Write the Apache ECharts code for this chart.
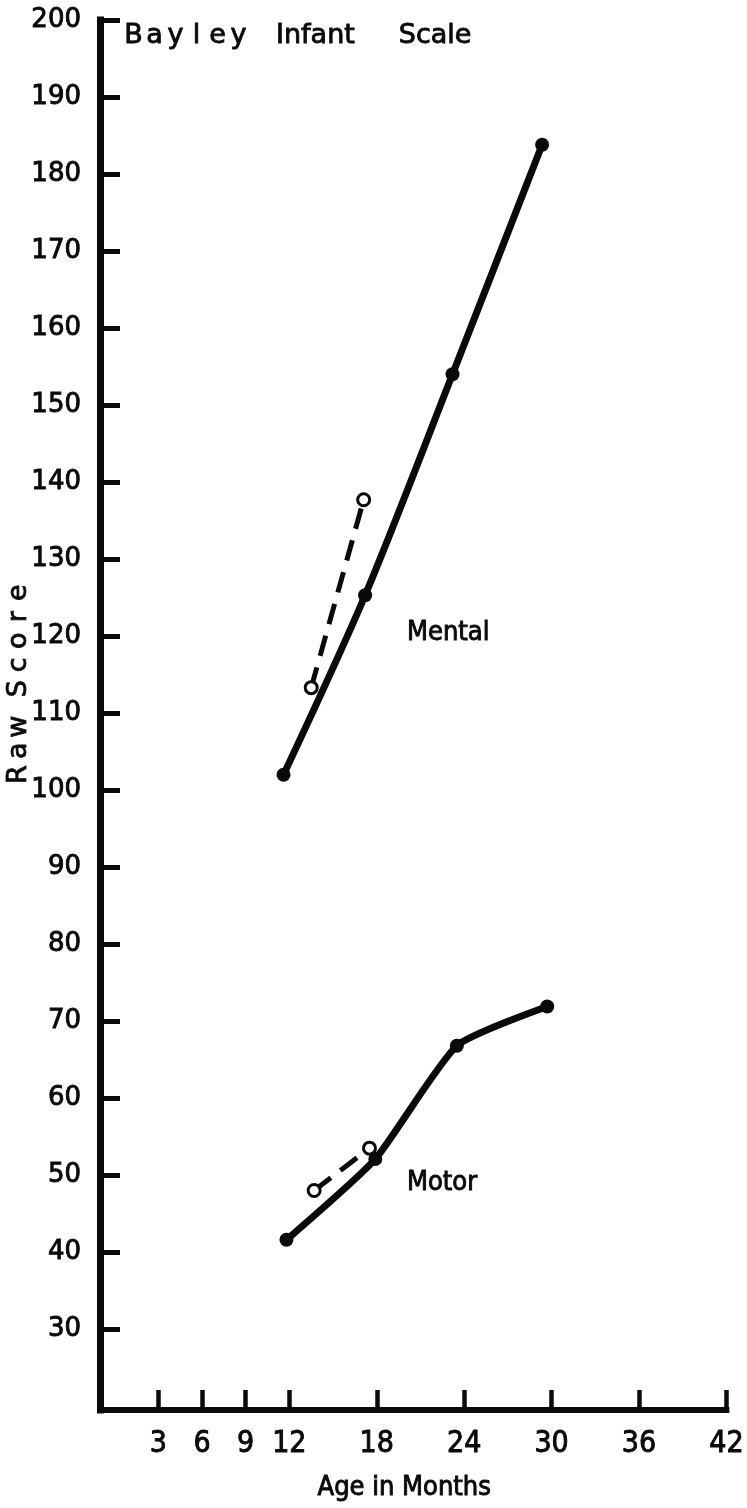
<!DOCTYPE html>
<html>
<head>
<meta charset="utf-8">
<script src="https://cdn.jsdelivr.net/npm/echarts@6/dist/echarts.min.js"></script>
<style>
html,body{margin:0;padding:0;background:#fff;}
#chart{width:747px;height:1508px;}
</style>
</head>
<body>
<div id="chart"></div>
<script>
// ---- data ----
var xTickValues = [3, 6, 9, 12, 18, 24, 30, 36, 42];
var yTickValues = [30, 40, 50, 60, 70, 80, 90, 100, 110, 120, 130, 140, 150, 160, 170, 180, 190, 200];
var mentalAges = [11.6, 17.2, 23.2, 29.35];
var mentalScores = [102, 125.3, 154, 183.8];
var mentalDashAges = [13.5, 17.1];
var mentalDashScores = [113.3, 137.7];
var motorAges = [11.8, 17.9, 23.5, 29.7];
var motorScores = [41.6, 52.1, 66.8, 71.9];
var motorDashAges = [13.7, 17.5];
var motorDashScores = [48, 53.5];
var titleWords = ['Bayley', 'Infant', 'Scale'];
var xName = 'Age in Months';
var yNameWords = ['Raw', 'Score'];

function pairs(xs, ys) { return xs.map(function (x, i) { return [x, ys[i]]; }); }

// detect a condensed font
function hasFont(name) {
  var c = document.createElement('canvas').getContext('2d');
  var s = 'Mental Motor 0123456789';
  c.font = '40px monospace'; var a = c.measureText(s).width;
  c.font = '40px "' + name + '", monospace'; var b = c.measureText(s).width;
  c.font = '40px serif'; var a2 = c.measureText(s).width;
  c.font = '40px "' + name + '", serif'; var b2 = c.measureText(s).width;
  return a !== b || a2 !== b2;
}
var condensed = hasFont('DejaVu Sans Condensed') ? 'DejaVu Sans Condensed'
  : (hasFont('Liberation Sans Narrow') ? 'Liberation Sans Narrow' : null);
var narrowFont = condensed || 'Liberation Sans';
var isNarrow = condensed === 'Liberation Sans Narrow';
var labelSize = isNarrow ? 31 : 27;
var xTickSize = isNarrow ? 32 : 30;
var xNameSize = isNarrow ? 31 : 27;

var chart = echarts.init(document.getElementById('chart'), null, { renderer: 'canvas' });
var INK = '#0a0a0a';
var THICK = { textBorderColor: INK, textBorderWidth: 0.9 };
function solidSeries(name, smooth, data) {
  return {
    name: name, type: 'line', smooth: smooth, symbol: 'circle', symbolSize: 14,
    lineStyle: { color: INK, width: 7, cap: 'round', join: 'round' },
    itemStyle: { color: INK }, z: 3, data: data
  };
}
function dashSeries(name, data) {
  return {
    name: name, type: 'line', smooth: false, symbol: 'circle', symbolSize: 12,
    lineStyle: { color: INK, width: 5, type: [21, 12], cap: 'butt' },
    itemStyle: { color: '#fff', borderColor: INK, borderWidth: 3 }, z: 4, data: data
  };
}

// letter-spaced rich text helpers
function spaced(word, style) {
  return word.split('').map(function (ch) { return '{' + style + '|' + ch + '}'; }).join('');
}

chart.setOption({
  backgroundColor: '#fff',
  animation: false,
  title: {
    text: spaced(titleWords[0], 'l') + '{a| }{w|' + titleWords[1] + '}{b| }{w|' + titleWords[2] + '}',
    left: 118, top: 17,
    textStyle: {
      fontWeight: 'normal',
      rich: {
        l: { fontFamily: 'DejaVu Sans', fontSize: 27, fontWeight: 'normal', color: INK, width: 21, align: 'center', textBorderColor: INK, textBorderWidth: 0.9 },
        w: { fontFamily: 'DejaVu Sans', fontSize: 27, fontWeight: 'normal', color: INK, textBorderColor: INK, textBorderWidth: 0.9 },
        a: { fontFamily: 'DejaVu Sans', fontSize: 27, width: 27, color: INK },
        b: { fontFamily: 'DejaVu Sans', fontSize: 27, width: 44, color: INK }
      }
    }
  },
  grid: { left: 100, right: 14, top: 20, bottom: 98 },
  xAxis: {
    type: 'value', min: -1, max: 42,
    axisLine: { show: true, onZero: false, lineStyle: { color: INK, width: 6, cap: 'square' } },
    axisTick: { show: true, inside: true, length: 20, customValues: xTickValues, lineStyle: { color: INK, width: 4.5 } },
    axisLabel: Object.assign({ customValues: xTickValues, margin: 19, fontFamily: narrowFont, fontSize: xTickSize, color: INK }, THICK),
    splitLine: { show: false },
    name: xName, nameLocation: 'middle', nameGap: 64,
    nameTextStyle: Object.assign({ fontFamily: narrowFont, fontSize: xNameSize, color: INK, padding: [0, 18, 0, 0] }, THICK)
  },
  yAxis: {
    type: 'value', min: 19.5, max: 200,
    axisLine: { show: true, onZero: false, lineStyle: { color: INK, width: 7, cap: 'square' } },
    axisTick: { show: true, inside: true, length: 20, customValues: yTickValues, lineStyle: { color: INK, width: 5 } },
    axisLabel: Object.assign({ customValues: yTickValues, margin: 19, fontFamily: 'DejaVu Sans', fontSize: 26, color: INK }, THICK),
    splitLine: { show: false }
  },
  graphic: [
    { type: 'text', left: 5, top: 584, rotation: Math.PI / 2,
      style: {
        text: spaced(yNameWords[0], 'c') + '{s| }' + spaced(yNameWords[1], 'c'),
        fill: INK,
        rich: {
          c: { fontFamily: 'DejaVu Sans', fontSize: 27, fill: INK, stroke: INK, lineWidth: 0.8, width: 24, align: 'center' },
          s: { fontFamily: 'DejaVu Sans', fontSize: 27, width: 14 }
        }
      } },
    { type: 'text', x: 407, y: 619, style: { text: 'Mental', fontFamily: narrowFont, fontSize: labelSize, fill: INK, stroke: INK, lineWidth: 0.9 } },
    { type: 'text', x: 407, y: 1169, style: { text: 'Motor', fontFamily: narrowFont, fontSize: labelSize, fill: INK, stroke: INK, lineWidth: 0.9 } }
  ],
  series: [
    solidSeries('Mental', 0.3, pairs(mentalAges, mentalScores)),
    solidSeries('Motor', 0.18, pairs(motorAges, motorScores)),
    dashSeries('Mental (dashed)', pairs(mentalDashAges, mentalDashScores)),
    dashSeries('Motor (dashed)', pairs(motorDashAges, motorDashScores))
  ]
});
</script>
</body>
</html>
